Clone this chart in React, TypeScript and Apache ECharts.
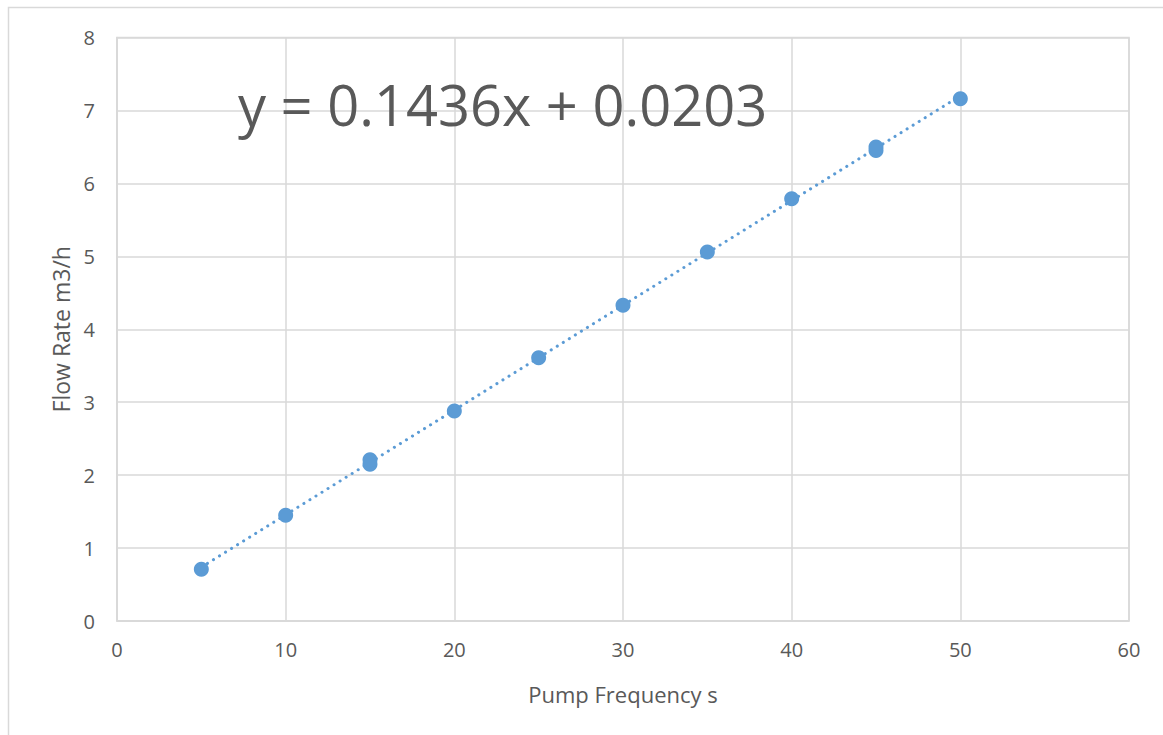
import React, { useEffect, useRef } from "react";
import * as echarts from "echarts";

const xTicks = [0, 10, 20, 30, 40, 50, 60];
const frequency = [5, 10, 15, 15, 20, 25, 30, 35, 40, 45, 45, 50];
const flowRate = [0.71, 1.45, 2.15, 2.21, 2.88, 3.61, 4.33, 5.06, 5.79, 6.45, 6.5, 7.16];
const trendX = [5, 50];
const trendY = [0.738, 7.2];
const equation = "y = 0.1436x + 0.0203";
const xTitle = "Pump Frequency s";
const yTitle = "Flow Rate m3/h";

export default function App() {
  const ref = useRef<HTMLDivElement>(null);
  useEffect(() => {
    if (!ref.current) return;
    const chart = echarts.init(ref.current, undefined, { renderer: "svg" });
    const font = "'Open Sans', Lato, sans-serif";
    chart.setOption({
      animation: false,
      textStyle: { fontFamily: font },
      grid: { left: 117, top: 37.5, right: 34, bottom: 114, show: true, borderColor: "#d9d9d9", borderWidth: 1.5 },
      xAxis: {
        type: "value",
        min: xTicks[0],
        max: xTicks[xTicks.length - 1],
        interval: 10,
        name: xTitle,
        nameLocation: "middle",
        nameGap: 62,
        nameTextStyle: { color: "#595959", fontSize: 22, fontFamily: font },
        axisLine: { show: true, lineStyle: { color: "#d9d9d9", width: 1.5 } },
        axisTick: { show: false },
        axisLabel: { color: "#595959", fontSize: 20, margin: 18, fontFamily: font },
        splitLine: { show: true, lineStyle: { color: "#d9d9d9", width: 1.5 } },
      },
      yAxis: {
        type: "value",
        min: 0,
        max: 8,
        interval: 1,
        name: yTitle,
        nameLocation: "middle",
        nameGap: 45,
        nameTextStyle: { color: "#595959", fontSize: 23, fontFamily: font },
        axisLine: { show: true, lineStyle: { color: "#d9d9d9", width: 1.5 } },
        axisTick: { show: false },
        axisLabel: { color: "#595959", fontSize: 20, margin: 22, fontFamily: font },
        splitLine: { show: true, lineStyle: { color: "#d9d9d9", width: 1.5 } },
      },
      graphic: [
        {
          type: "rect",
          shape: { x: 8.5, y: 7.5, width: 1300, height: 900 },
          style: { fill: "none", stroke: "#d9d9d9", lineWidth: 1.5 },
          silent: true,
          z: -10,
        },
        {
          type: "text",
          x: 238,
          y: 104,
          style: {
            text: equation,
            fill: "#595959",
            fontSize: 56,
            fontFamily: font,
            verticalAlign: "middle",
          },
          z: 10,
        },
      ],
      series: [
        {
          type: "line",
          data: trendX.map((x, i) => [x, trendY[i]]),
          symbol: "none",
          lineStyle: { color: "#5b9bd5", width: 3, type: [0.1, 7], cap: "round" },
          z: 2,
        },
        {
          type: "scatter",
          data: frequency.map((x, i) => [x, flowRate[i]]),
          symbol: "circle",
          symbolSize: 15,
          itemStyle: { color: "#5b9bd5", opacity: 1 },
          z: 3,
        },
      ],
    });
    return () => chart.dispose();
  }, []);
  return (
    <div
      ref={ref}
      style={{ position: "fixed", left: 0, top: 0, width: 1163, height: 735, background: "#fff" }}
    />
  );
}
